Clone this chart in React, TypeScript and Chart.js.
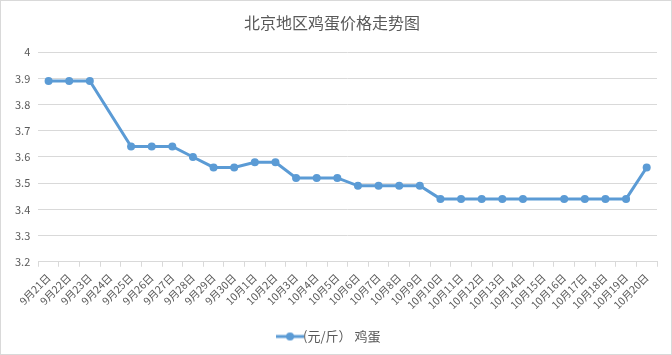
import React, { useEffect, useRef } from "react";
import { Chart, registerables } from "chart.js";

Chart.register(...registerables);

const TITLE = "北京地区鸡蛋价格走势图";
const SERIES_NAME = "(元/斤） 鸡蛋";
const categories = [
  "9月21日", "9月22日", "9月23日", "9月24日", "9月25日", "9月26日", "9月27日", "9月28日", "9月29日", "9月30日",
  "10月1日", "10月2日", "10月3日", "10月4日", "10月5日", "10月6日", "10月7日", "10月8日", "10月9日", "10月10日",
  "10月11日", "10月12日", "10月13日", "10月14日", "10月15日", "10月16日", "10月17日", "10月18日", "10月19日", "10月20日",
];
const prices: (number | null)[] = [
  3.89, 3.89, 3.89, null, 3.64, 3.64, 3.64, 3.6, 3.56, 3.56,
  3.58, 3.58, 3.52, 3.52, 3.52, 3.49, 3.49, 3.49, 3.49, 3.44,
  3.44, 3.44, 3.44, 3.44, null, 3.44, 3.44, 3.44, 3.44, 3.56,
];
const Y_MIN = 3.2;
const Y_MAX = 4;
const Y_STEP = 0.1;

const BLUE = "#5b9bd5";
const TEXT = "#595959";
const GRID = "#d9d9d9";
const FONT = "'Noto Sans CJK SC', 'Noto Sans', sans-serif";

function makeLegendIcon(): HTMLCanvasElement {
  const c = document.createElement("canvas");
  c.width = 28;
  c.height = 10;
  const ctx = c.getContext("2d")!;
  ctx.strokeStyle = BLUE;
  ctx.lineWidth = 3;
  ctx.beginPath();
  ctx.moveTo(0, 5);
  ctx.lineTo(28, 5);
  ctx.stroke();
  ctx.fillStyle = BLUE;
  ctx.beginPath();
  ctx.arc(14, 5, 4, 0, Math.PI * 2);
  ctx.fill();
  return c;
}

export default function App() {
  const ref = useRef<HTMLCanvasElement | null>(null);
  useEffect(() => {
    document.body.style.margin = "0";
    const icon = makeLegendIcon();
    const chart = new Chart(ref.current!, {
      type: "line",
      data: {
        labels: categories,
        datasets: [
          {
            label: SERIES_NAME,
            data: prices,
            borderColor: BLUE,
            backgroundColor: BLUE,
            borderWidth: 3,
            pointRadius: 4,
            pointHoverRadius: 4,
            pointBorderWidth: 0,
            pointBackgroundColor: BLUE,
            spanGaps: true,
            tension: 0,
          },
        ],
      },
      options: {
        animation: false,
        responsive: false,
        layout: { padding: { left: 6, right: 14, top: 4, bottom: 1 } },
        plugins: {
          title: {
            display: true,
            text: TITLE,
            color: TEXT,
            font: { family: FONT, size: 16, weight: "normal" },
            padding: { top: 8, bottom: 20 },
          },
          legend: {
            position: "bottom",
            labels: {
              color: TEXT,
              font: { family: FONT, size: 13 },
              usePointStyle: true,
              padding: 14,
              generateLabels: (ch: any) =>
                ch.data.datasets.map((ds: any, i: number) => ({
                  text: ds.label,
                  fillStyle: BLUE,
                  strokeStyle: BLUE,
                  lineWidth: 0,
                  pointStyle: icon,
                  datasetIndex: i,
                  hidden: false,
                  fontColor: TEXT,
                })),
            },
          },
          tooltip: { enabled: false },
        },
        scales: {
          x: {
            offset: true,
            grid: {
              display: true,
              offset: true,
              drawOnChartArea: false,
              drawTicks: true,
              tickLength: 5,
              color: GRID,
            },
            border: { display: true, color: GRID, width: 1 },
            ticks: {
              color: TEXT,
              font: { family: FONT, size: 10.5 },
              minRotation: 45,
              maxRotation: 45,
              autoSkip: false,
              padding: 4.5,
            },
          },
          y: {
            min: Y_MIN,
            max: Y_MAX,
            grid: { color: GRID, drawTicks: false },
            border: { display: false },
            ticks: {
              stepSize: Y_STEP,
              color: TEXT,
              font: { family: FONT, size: 11 },
              padding: 8,
              callback: (v: any) => String(Number(Number(v).toFixed(1))),
            },
          },
        },
      },
    });
    return () => chart.destroy();
  }, []);
  return (
    <div
      style={{
        width: 672,
        height: 355,
        boxSizing: "border-box",
        border: "1px solid #d9d9d9",
        background: "#fff",
        overflow: "hidden",
      }}
    >
      <canvas ref={ref} width={670} height={353} style={{ display: "block" }} />
    </div>
  );
}
